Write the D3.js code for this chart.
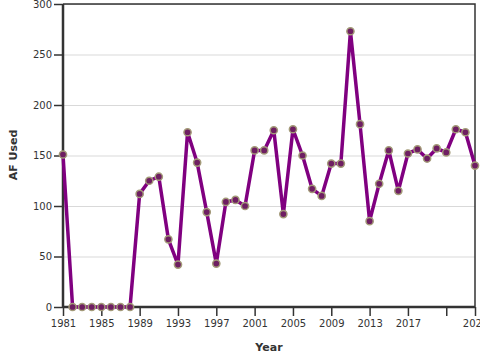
<!DOCTYPE html>
<html>
<head>
<meta charset="utf-8">
<script src="https://cdn.jsdelivr.net/npm/d3@7"></script>
<style>
  body { margin: 0; background: #fff; }
  text { font-family: "DejaVu Sans", sans-serif; fill: #333; }
</style>
</head>
<body>
<script>
const years = [1981, 1982, 1983, 1984, 1985, 1986, 1987, 1988, 1989, 1990,
  1991, 1992, 1993, 1994, 1995, 1996, 1997, 1998, 1999, 2000,
  2001, 2002, 2003, 2004, 2005, 2006, 2007, 2008, 2009, 2010,
  2011, 2012, 2013, 2014, 2015, 2016, 2017, 2018, 2019, 2020,
  2021, 2022, 2023, 2024]
const afUsed = [151, 0, 0, 0, 0, 0, 0, 0, 112, 125,
  129, 67, 42, 173, 143, 94, 43, 104, 106, 100,
  155, 155, 175, 92, 176, 150, 117, 110, 142, 142,
  273, 181, 85, 122, 155, 115, 152, 156, 147, 157,
  153, 176, 173, 140]
const xTicks = [1981, 1985, 1989, 1993, 1997, 2001, 2005, 2009, 2013, 2017, 2021, 2024]
const xTickLabels = ['1981', '1985', '1989', '1993', '1997', '2001', '2005', '2009', '2013', '2017', '', '2024']
const yTicks = [0, 50, 100, 150, 200, 250, 300]

const w = 480
const h = 360
const margin = { top: 4, right: 5, bottom: 53, left: 63 }

const data = years.map((y, i) => [y, afUsed[i]])

const xScale = d3.scaleLinear()
  .domain([1981, 2024])
  .range([margin.left, w - margin.right])
const yScale = d3.scaleLinear()
  .domain([0, 300])
  .range([h - margin.bottom, margin.top])

const svg = d3.select('body')
  .append('svg')
  .attr('width', w)
  .attr('height', h)

// grid
svg.append('g')
  .selectAll('line')
  .data(yTicks)
  .enter()
  .append('line')
  .attr('x1', margin.left)
  .attr('x2', w - margin.right)
  .attr('y1', d => yScale(d) + 0.5)
  .attr('y2', d => yScale(d) + 0.5)
  .attr('stroke', '#d9d9d9')
  .attr('stroke-width', 1)

// frame top + right
svg.append('path')
  .attr('d', `M${margin.left},${margin.top}H${w - margin.right}V${h - margin.bottom}`)
  .attr('fill', 'none')
  .attr('stroke', '#333')
  .attr('stroke-width', 1.5)

const xAxis = d3.axisBottom(xScale)
  .tickValues(xTicks)
  .tickFormat((d, i) => xTickLabels[i])
  .tickSize(9)
  .tickPadding(4)
const yAxis = d3.axisLeft(yScale)
  .tickValues(yTicks)
  .tickSize(9)
  .tickPadding(2)

const gx = svg.append('g')
  .attr('transform', `translate(0, ${h - margin.bottom})`)
  .call(xAxis)
const gy = svg.append('g')
  .attr('transform', `translate(${margin.left}, 0)`)
  .call(yAxis)

;[gx, gy].forEach(g => {
  g.select('.domain').attr('stroke', '#333').attr('stroke-width', 2.5)
  g.selectAll('.tick line').attr('stroke', '#333').attr('stroke-width', 1.5)
  g.selectAll('.tick text').style('font-family', '"DejaVu Sans", sans-serif').style('font-size', '10px').attr('fill', '#333')
})
gy.select('.domain').attr('d', `M0,${margin.top}V${h - margin.bottom}`)
gx.select('.domain').attr('d', `M${margin.left},0H${w - margin.right}`)

const line = d3.line()
  .x(d => xScale(d[0]))
  .y(d => yScale(d[1]))

svg.append('path')
  .datum(data)
  .attr('fill', 'none')
  .attr('stroke', '#800080')
  .attr('stroke-width', 3.5)
  .attr('stroke-linejoin', 'round')
  .attr('d', line)

svg.selectAll('circle')
  .data(data)
  .enter()
  .append('circle')
  .attr('cx', d => xScale(d[0]))
  .attr('cy', d => yScale(d[1]))
  .attr('r', 3.6)
  .attr('fill', '#6e1e62')
  .attr('stroke', '#a39a78')
  .attr('stroke-width', 1.5)

svg.append('text')
  .attr('x', (margin.left + w - margin.right) / 2)
  .attr('y', 351)
  .attr('text-anchor', 'middle')
  .style('font-size', '11px')
  .style('font-weight', 'bold')
  .text('Year')

svg.append('text')
  .attr('transform', `translate(17, 155) rotate(-90)`)
  .attr('text-anchor', 'middle')
  .style('font-size', '11px')
  .style('font-weight', 'bold')
  .text('AF Used')
</script>
</body>
</html>
